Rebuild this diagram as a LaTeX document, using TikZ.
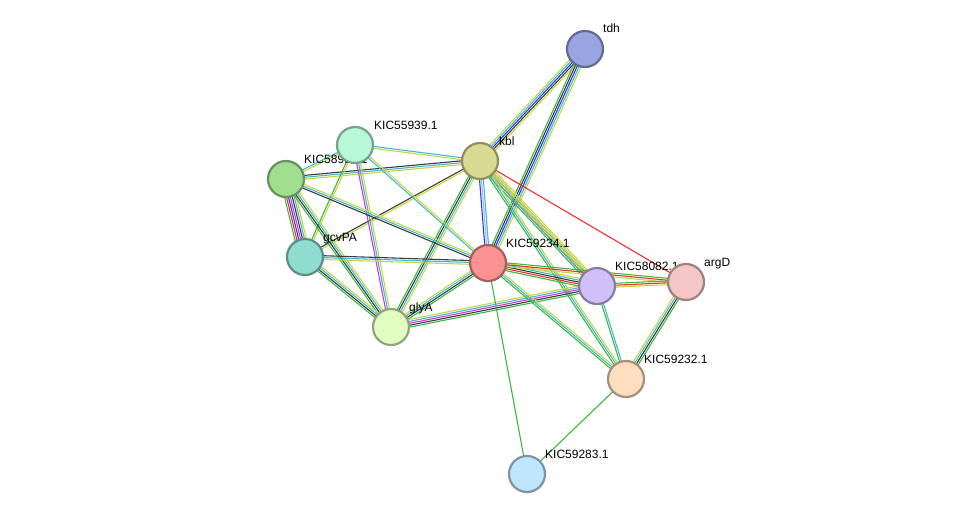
\documentclass[tikz,border=0pt]{standalone}
\usepackage{fontspec}
\setmainfont{Liberation Sans}
\usetikzlibrary{calc}
\definecolor{tm}{HTML}{C7D63E}
\definecolor{db}{HTML}{3EB8D8}
\definecolor{nb}{HTML}{3CB93C}
\definecolor{ce}{HTML}{3C3C3C}
\definecolor{co}{HTML}{2B3BE8}
\definecolor{fu}{HTML}{F03030}
\definecolor{ex}{HTML}{D835D8}
\definecolor{hm}{HTML}{A8B4F0}
\definecolor{ctdh}{HTML}{99A4E0}
\definecolor{c55939}{HTML}{B9F7D9}
\definecolor{ckbl}{HTML}{DADA94}
\definecolor{c589}{HTML}{9FDF8F}
\definecolor{cgcv}{HTML}{8FDCD0}
\definecolor{c59234}{HTML}{FB9292}
\definecolor{c58082}{HTML}{D0C0FA}
\definecolor{cargD}{HTML}{F5C6C6}
\definecolor{cglyA}{HTML}{E2FDC0}
\definecolor{c59232}{HTML}{FDDEC0}
\definecolor{c59283}{HTML}{BFE6FD}
\tikzset{
  prot/.style={circle, draw=#1!65!black, fill=#1, line width=2.2pt, minimum size=36pt, inner sep=0},
  lbl/.style={anchor=base west, font=\fontsize{12}{12}\selectfont, inner sep=0},
  ln/.style={line width=1.1pt}
}
% n, from, to, colours
\newcommand\stredge[4]{%
  \foreach \c [count=\i] in {#4} {%
    \pgfmathsetmacro\o{(\i-(#1+1)/2)*1.9}%
    \draw[ln, \c] ($(#2)!\o pt!90:(#3)$) -- ($(#3)!\o pt!-90:(#2)$);
  }%
}
\begin{document}
\begin{tikzpicture}[x=1pt, y=-1pt]
\useasboundingbox (0,0) rectangle (976,520);
% positions
\coordinate (tdh) at (585,49);
\coordinate (k55939) at (355,145);
\coordinate (kbl) at (480,161);
\coordinate (k589) at (286,179);
\coordinate (gcvPA) at (305,257);
\coordinate (k59234) at (488,263);
\coordinate (k58082) at (597,286);
\coordinate (argD) at (686,282);
\coordinate (glyA) at (391,327);
\coordinate (k59232) at (626,379);
\coordinate (k59283) at (527,474);
% edges
\stredge{5}{tdh}{kbl}{tm,db,co,ce,tm}
\stredge{5}{tdh}{k59234}{nb,ce,co,db,tm}
\stredge{3}{kbl}{k59234}{co,hm,db}
\stredge{5}{kbl}{k58082}{nb,fu,ce,db,tm}
\stredge{1}{kbl}{argD}{fu}
\stredge{3}{kbl}{k58082}{db,tm,tm}
\stredge{3}{kbl}{k59232}{nb,db,tm}
\stredge{4}{kbl}{glyA}{nb,ce,db,tm}
\stredge{2}{kbl}{gcvPA}{ce,tm}
\stredge{3}{kbl}{k589}{ce,db,tm}
\stredge{2}{kbl}{k55939}{db,tm}
\stredge{2}{k55939}{k589}{db,tm}
\stredge{2}{k55939}{gcvPA}{nb,tm}
\stredge{3}{k55939}{glyA}{ex,db,tm}
\stredge{2}{k55939}{k59234}{db,tm}
\stredge{7}{k589}{gcvPA}{nb,fu,co,ex,ce,db,tm}
\stredge{4}{k589}{glyA}{nb,ce,db,tm}
\stredge{3}{k589}{k59234}{ce,db,tm}
\stredge{3}{gcvPA}{k59234}{tm,db,ce}
\stredge{4}{gcvPA}{glyA}{nb,ce,db,tm}
\stredge{4}{glyA}{k59234}{nb,ce,db,tm}
\stredge{5}{glyA}{k58082}{nb,ce,ex,db,tm}
\stredge{5}{k59234}{k58082}{nb,fu,ce,db,tm}
\stredge{3}{k59234}{argD}{tm,fu,nb}
\stredge{3}{k59234}{k59232}{nb,db,tm}
\stredge{1}{k59234}{k59283}{nb}
\stredge{3}{k58082}{argD}{tm,fu,nb}
\stredge{2}{k58082}{k59232}{nb,db}
\stredge{4}{argD}{k59232}{tm,db,ce,nb}
\stredge{1}{k59232}{k59283}{nb}
% labels
\node[lbl] (l589) at (304,163) {KIC58909.1};
\node[lbl] (ltdh) at (603,32) {tdh};
\node[lbl] (l55939) at (374,129) {KIC55939.1};
\node[lbl] (lkbl) at (499,145) {kbl};
\node[lbl] (lgcv) at (323,241) {gcvPA};
\node[lbl] (l59234) at (506,247) {KIC59234.1};
\node[lbl] (l58082) at (615,270) {KIC58082.1};
\node[lbl] (largD) at (704,266) {argD};
\node[lbl] (lglyA) at (409,311) {glyA};
\node[lbl] (l59232) at (644,363) {KIC59232.1};
\node[lbl] (l59283) at (545,458) {KIC59283.1};
% proteins
\node[prot=ctdh] (ntdh) at (tdh) {};
\node[prot=c55939] (n55939) at (k55939) {};
\node[prot=ckbl] (nkbl) at (kbl) {};
\node[prot=c589] (n589) at (k589) {};
\node[prot=cgcv] (ngcv) at (gcvPA) {};
\node[prot=c59234] (n59234) at (k59234) {};
\node[prot=c58082] (n58082) at (k58082) {};
\node[prot=cargD] (nargD) at (argD) {};
\node[prot=cglyA] (nglyA) at (glyA) {};
\node[prot=c59232] (n59232) at (k59232) {};
\node[prot=c59283] (n59283) at (k59283) {};
\end{tikzpicture}
\end{document}
